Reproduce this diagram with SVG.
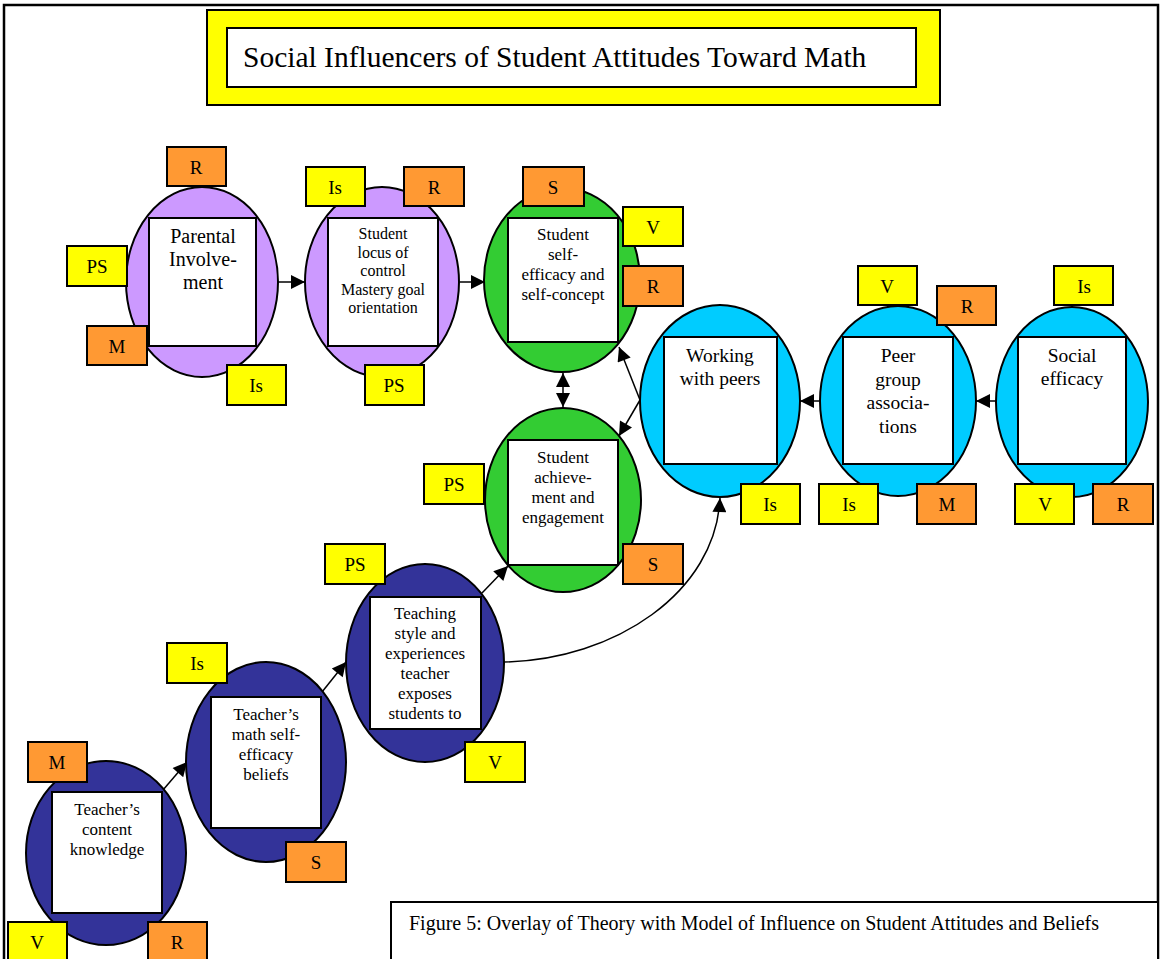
<svg xmlns="http://www.w3.org/2000/svg" width="1160" height="959" viewBox="0 0 1160 959" font-family="'Liberation Serif', 'DejaVu Serif', serif">
<style>
text{font-family:'Liberation Serif','Times New Roman','DejaVu Serif',serif;fill:#000;text-anchor:middle}
.f20{font-size:20px}
.f19{font-size:19.5px}
.f17{font-size:17px}
.f16{font-size:16px}
.lt{font-size:19px}
.y{fill:#FFFF00;stroke:#000;stroke-width:2}
.o{fill:#FF9933;stroke:#000;stroke-width:2}
.in{fill:#fff;stroke:#000;stroke-width:2}
.pu{fill:#CC99FF;stroke:#000;stroke-width:2}
.gr{fill:#33CC33;stroke:#000;stroke-width:2}
.cy{fill:#00CCFF;stroke:#000;stroke-width:2}
.db{fill:#333399;stroke:#000;stroke-width:2}
.c{fill:none;stroke:#000;stroke-width:1.5}
</style>
<defs>
<marker id="ah" viewBox="0 0 10 10" refX="10" refY="5" markerWidth="16" markerHeight="14" markerUnits="userSpaceOnUse" orient="auto-start-reverse"><path d="M0,0 L10,5 L0,10 z" fill="#000"/></marker>
</defs>
<rect width="1160" height="959" fill="#fff"/>
<path d="M4,959 V5 H1158 V959" fill="none" stroke="#000" stroke-width="2.5"/>

<g id="title">
<rect x="207" y="10" width="733" height="95" fill="#FFFF00" stroke="#000" stroke-width="2"/>
<rect x="227" y="28" width="689" height="59" fill="#fff" stroke="#000" stroke-width="2"/>
<text x="243" y="67" style="font-size:29.5px;text-anchor:start">Social Influencers of Student Attitudes Toward Math</text>
</g>

<g id="connectors">
<line class="c" x1="278" y1="282" x2="305" y2="282" marker-end="url(#ah)"/>
<line class="c" x1="460" y1="282" x2="485" y2="282" marker-end="url(#ah)"/>
<line class="c" x1="563" y1="373" x2="563" y2="407" marker-start="url(#ah)" marker-end="url(#ah)"/>
<line class="c" x1="640" y1="400" x2="619" y2="347" marker-end="url(#ah)"/>
<line class="c" x1="640" y1="400" x2="619" y2="436" marker-end="url(#ah)"/>
<line class="c" x1="819" y1="401" x2="800" y2="401" marker-end="url(#ah)"/>
<line class="c" x1="996" y1="401" x2="976" y2="401" marker-end="url(#ah)"/>
<line class="c" x1="163" y1="790" x2="187" y2="762" marker-end="url(#ah)"/>
<line class="c" x1="322" y1="692" x2="346" y2="662" marker-end="url(#ah)"/>
<line class="c" x1="482" y1="593" x2="508" y2="566" marker-end="url(#ah)"/>
<path class="c" d="M504,662 C615,660 716,592 720,498" marker-end="url(#ah)"/>
</g>

<g id="parental">
<ellipse class="pu" cx="202" cy="282" rx="76" ry="95"/>
<rect class="in" x="149" y="218" width="107" height="128"/>
<text class="f20" x="203" y="243">Parental<tspan x="203" dy="23">Involve-</tspan><tspan x="203" dy="23">ment</tspan></text>
<rect class="o" x="167" y="147" width="59" height="39"/><text class="lt" x="196" y="174">R</text>
<rect class="y" x="67" y="246" width="60" height="40"/><text class="lt" x="97" y="273">PS</text>
<rect class="o" x="87" y="326" width="60" height="39"/><text class="lt" x="117" y="353">M</text>
<rect class="y" x="227" y="365" width="59" height="40"/><text class="lt" x="256" y="392">Is</text>
</g>

<g id="locus">
<ellipse class="pu" cx="382" cy="282" rx="77" ry="95"/>
<rect class="in" x="328" y="218" width="110" height="128"/>
<text class="f16" x="383" y="239">Student<tspan x="383" dy="18.5">locus of</tspan><tspan x="383" dy="18.5">control</tspan><tspan x="383" dy="18.5">Mastery goal</tspan><tspan x="383" dy="18.5">orientation</tspan></text>
<rect class="y" x="306" y="167" width="59" height="39"/><text class="lt" x="335" y="194">Is</text>
<rect class="o" x="404" y="167" width="60" height="39"/><text class="lt" x="434" y="194">R</text>
<rect class="y" x="365" y="365" width="59" height="40"/><text class="lt" x="394" y="392">PS</text>
</g>

<g id="selfefficacy">
<ellipse class="gr" cx="562" cy="280" rx="78" ry="92"/>
<rect class="in" x="508" y="218" width="110" height="124"/>
<text class="f17" x="563" y="240">Student<tspan x="563" dy="20">self-</tspan><tspan x="563" dy="20">efficacy and</tspan><tspan x="563" dy="20">self-concept</tspan></text>
<rect class="o" x="523" y="167" width="61" height="39"/><text class="lt" x="553" y="194">S</text>
<rect class="y" x="623" y="207" width="60" height="39"/><text class="lt" x="653" y="234">V</text>
<rect class="o" x="623" y="266" width="60" height="40"/><text class="lt" x="653" y="293">R</text>
</g>

<g id="achievement">
<ellipse class="gr" cx="563" cy="500" rx="78" ry="92"/>
<rect class="in" x="508" y="440" width="110" height="125"/>
<text class="f17" x="563" y="463">Student<tspan x="563" dy="20">achieve-</tspan><tspan x="563" dy="20">ment and</tspan><tspan x="563" dy="20">engagement</tspan></text>
<rect class="y" x="424" y="464" width="60" height="40"/><text class="lt" x="454" y="491">PS</text>
<rect class="o" x="623" y="544" width="60" height="40"/><text class="lt" x="653" y="571">S</text>
</g>

<g id="workingpeers">
<ellipse class="cy" cx="720" cy="401" rx="80" ry="96"/>
<rect class="in" x="664" y="337" width="113" height="127"/>
<text class="f19" x="720" y="362">Working<tspan x="720" dy="23">with peers</tspan></text>
<rect class="y" x="741" y="484" width="59" height="40"/><text class="lt" x="770" y="511">Is</text>
</g>

<g id="peergroup">
<ellipse class="cy" cx="898" cy="401" rx="78" ry="95"/>
<rect class="in" x="843" y="337" width="110" height="127"/>
<text class="f19" x="898" y="362">Peer<tspan x="898" dy="23.5">group</tspan><tspan x="898" dy="23.5">associa-</tspan><tspan x="898" dy="23.5">tions</tspan></text>
<rect class="y" x="858" y="266" width="59" height="39"/><text class="lt" x="887" y="293">V</text>
<rect class="o" x="937" y="286" width="59" height="39"/><text class="lt" x="967" y="313">R</text>
<rect class="y" x="819" y="484" width="59" height="40"/><text class="lt" x="849" y="511">Is</text>
<rect class="o" x="917" y="484" width="59" height="40"/><text class="lt" x="947" y="511">M</text>
</g>

<g id="socialefficacy">
<ellipse class="cy" cx="1072" cy="402" rx="76" ry="95"/>
<rect class="in" x="1018" y="337" width="108" height="127"/>
<text class="f19" x="1072" y="362">Social<tspan x="1072" dy="23">efficacy</tspan></text>
<rect class="y" x="1054" y="266" width="59" height="39"/><text class="lt" x="1084" y="293">Is</text>
<rect class="y" x="1015" y="484" width="59" height="40"/><text class="lt" x="1045" y="511">V</text>
<rect class="o" x="1093" y="484" width="60" height="40"/><text class="lt" x="1123" y="511">R</text>
</g>

<g id="teachingstyle">
<ellipse class="db" cx="425" cy="663" rx="79" ry="99"/>
<rect class="in" x="370" y="597" width="111" height="132"/>
<text class="f17" x="425" y="619">Teaching<tspan x="425" dy="20">style and</tspan><tspan x="425" dy="20">experiences</tspan><tspan x="425" dy="20">teacher</tspan><tspan x="425" dy="20">exposes</tspan><tspan x="425" dy="20">students to</tspan></text>
<rect class="y" x="325" y="544" width="60" height="40"/><text class="lt" x="355" y="571">PS</text>
<rect class="y" x="465" y="742" width="60" height="40"/><text class="lt" x="495" y="769">V</text>
</g>

<g id="teacherselfefficacy">
<ellipse class="db" cx="266" cy="762" rx="80" ry="100"/>
<rect class="in" x="211" y="697" width="110" height="131"/>
<text class="f17" x="266" y="720">Teacher’s<tspan x="266" dy="20">math self-</tspan><tspan x="266" dy="20">efficacy</tspan><tspan x="266" dy="20">beliefs</tspan></text>
<rect class="y" x="167" y="643" width="60" height="40"/><text class="lt" x="197" y="670">Is</text>
<rect class="o" x="286" y="842" width="60" height="40"/><text class="lt" x="316" y="869">S</text>
</g>

<g id="contentknowledge">
<ellipse class="db" cx="106" cy="853" rx="80" ry="92"/>
<rect class="in" x="52" y="792" width="110" height="121"/>
<text class="f17" x="107" y="815">Teacher’s<tspan x="107" dy="20">content</tspan><tspan x="107" dy="20">knowledge</tspan></text>
<rect class="o" x="28" y="742" width="59" height="40"/><text class="lt" x="57" y="769">M</text>
<rect class="y" x="8" y="922" width="59" height="40"/><text class="lt" x="37" y="949">V</text>
<rect class="o" x="148" y="922" width="59" height="40"/><text class="lt" x="177" y="949">R</text>
</g>

<g id="caption">
<rect x="391" y="902" width="767" height="70" fill="#fff" stroke="#000" stroke-width="2"/>
<text x="409" y="930" style="font-size:20px;text-anchor:start">Figure 5: Overlay of Theory with Model of Influence on Student Attitudes and Beliefs</text>
</g>
</svg>
